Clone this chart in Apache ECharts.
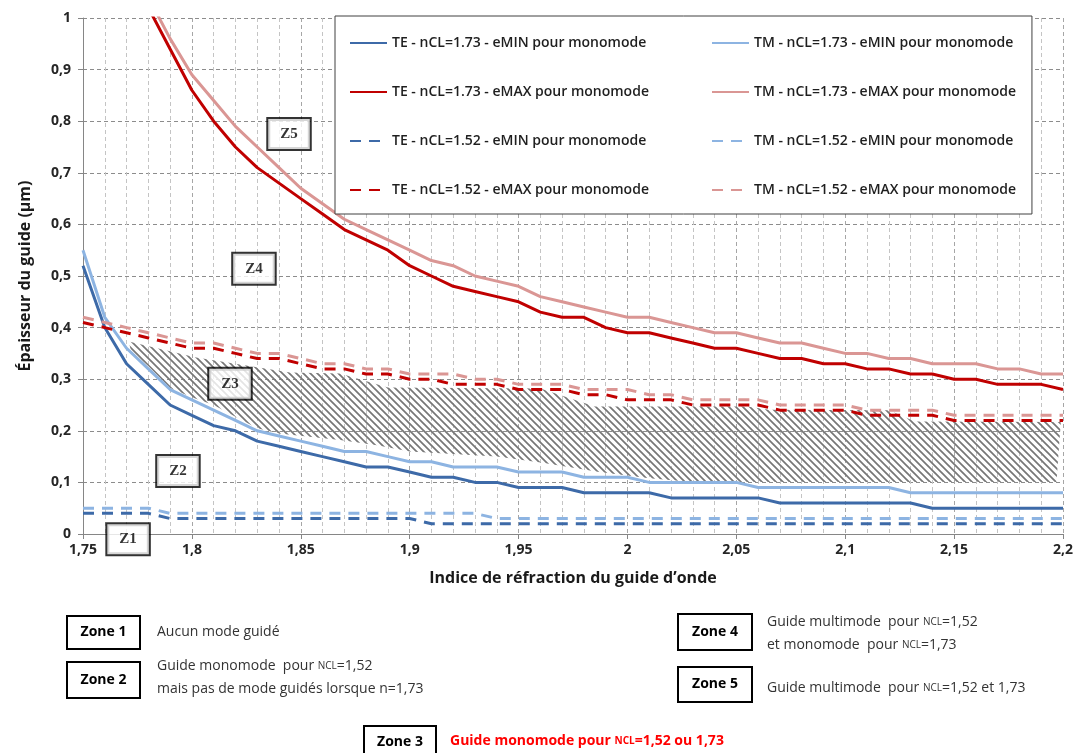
<!DOCTYPE html>
<html><head><meta charset="utf-8">
<script src="https://cdn.jsdelivr.net/npm/echarts@6/dist/echarts.min.js"></script>
<style>html,body{margin:0;padding:0;background:#fff}#chart{width:1079px;height:753px}</style>
</head><body><div id="chart"></div>
<script>
// ---------- DATA ----------
const nIndex = [1.75,1.76,1.77,1.78,1.79,1.80,1.81,1.82,1.83,1.84,1.85,1.86,1.87,1.88,1.89,1.90,1.91,1.92,1.93,1.94,1.95,1.96,1.97,1.98,1.99,2.00,2.01,2.02,2.03,2.04,2.05,2.06,2.07,2.08,2.09,2.10,2.11,2.12,2.13,2.14,2.15,2.16,2.17,2.18,2.19,2.20];

const teMin173 = [0.52,0.40,0.33,0.29,0.25,0.23,0.21,0.20,0.18,0.17, 0.16,0.15,0.14,0.13,0.13,0.12,0.11,0.11,0.10,0.10, 0.09,0.09,0.09,0.08,0.08,0.08,0.08,0.07,0.07,0.07, 0.07,0.07,0.06,0.06,0.06,0.06,0.06,0.06,0.06,0.05, 0.05,0.05,0.05,0.05,0.05,0.05];
const tmMin173 = [0.55,0.42,0.36,0.32,0.28,0.26,0.24,0.22,0.20,0.19, 0.18,0.17,0.16,0.16,0.15,0.14,0.14,0.13,0.13,0.13, 0.12,0.12,0.12,0.11,0.11,0.11,0.10,0.10,0.10,0.10, 0.10,0.09,0.09,0.09,0.09,0.09,0.09,0.09,0.08,0.08, 0.08,0.08,0.08,0.08,0.08,0.08];
const teMax173 = [null,null,null,1.02,0.94,0.86,0.80,0.75,0.71,0.68, 0.65,0.62,0.59,0.57,0.55,0.52,0.50,0.48,0.47,0.46, 0.45,0.43,0.42,0.42,0.40,0.39,0.39,0.38,0.37,0.36, 0.36,0.35,0.34,0.34,0.33,0.33,0.32,0.32,0.31,0.31, 0.30,0.30,0.29,0.29,0.29,0.28];
const tmMax173 = [null,null,null,1.04,0.96,0.89,0.84,0.79,0.75,0.71, 0.67,0.64,0.61,0.59,0.57,0.55,0.53,0.52,0.50,0.49, 0.48,0.46,0.45,0.44,0.43,0.42,0.42,0.41,0.40,0.39, 0.39,0.38,0.37,0.37,0.36,0.35,0.35,0.34,0.34,0.33, 0.33,0.33,0.32,0.32,0.31,0.31];
const teMin152 = [0.04,0.04,0.04,0.04,0.03,0.03,0.03,0.03,0.03,0.03, 0.03,0.03,0.03,0.03,0.03,0.03,0.02,0.02,0.02,0.02, 0.02,0.02,0.02,0.02,0.02,0.02,0.02,0.02,0.02,0.02, 0.02,0.02,0.02,0.02,0.02,0.02,0.02,0.02,0.02,0.02, 0.02,0.02,0.02,0.02,0.02,0.02];
const tmMin152 = [0.05,0.05,0.05,0.05,0.04,0.04,0.04,0.04,0.04,0.04, 0.04,0.04,0.04,0.04,0.04,0.04,0.04,0.04,0.04,0.03, 0.03,0.03,0.03,0.03,0.03,0.03,0.03,0.03,0.03,0.03, 0.03,0.03,0.03,0.03,0.03,0.03,0.03,0.03,0.03,0.03, 0.03,0.03,0.03,0.03,0.03,0.03];
const teMax152 = [0.41,0.40,0.39,0.38,0.37,0.36,0.36,0.35,0.34,0.34, 0.33,0.32,0.32,0.31,0.31,0.30,0.30,0.29,0.29,0.29, 0.28,0.28,0.28,0.27,0.27,0.26,0.26,0.26,0.25,0.25, 0.25,0.25,0.24,0.24,0.24,0.24,0.23,0.23,0.23,0.23, 0.22,0.22,0.22,0.22,0.22,0.22];
const tmMax152 = [0.42,0.41,0.40,0.39,0.38,0.37,0.37,0.36,0.35,0.35, 0.34,0.33,0.33,0.32,0.32,0.31,0.31,0.31,0.30,0.30, 0.29,0.29,0.29,0.28,0.28,0.28,0.27,0.27,0.26,0.26, 0.26,0.26,0.25,0.25,0.25,0.25,0.24,0.24,0.24,0.24, 0.23,0.23,0.23,0.23,0.23,0.23];

// hatched Zone 3 outline (index, thickness)
const zone3Outline = [[1.771,0.373],[1.802,0.342],[1.845,0.313],[1.868,0.311],[1.89,0.284],[1.96,0.282],[1.985,0.247],[2.055,0.247],[2.065,0.241],[2.12,0.240],[2.132,0.218],[2.199,0.217],[2.197,0.101],[2.03,0.101],[2.01,0.108],[1.987,0.12],[1.961,0.138],[1.94,0.15],[1.90,0.16],[1.885,0.172],[1.868,0.182],[1.84,0.195],[1.83,0.205],[1.82,0.227],[1.81,0.25],[1.80,0.265],[1.79,0.283],[1.78,0.325],[1.772,0.355]];

const zoneTagNames = ['Z1','Z2','Z3','Z4','Z5'];
const zoneTagIndex = [1.7707,1.7936,1.8175,1.8285,1.8446];
const zoneTagThick = [-0.01,0.122,0.291,0.514,0.775];

const seriesNames = [
  'TE - nCL=1.73 - eMIN pour monomode','TM - nCL=1.73 - eMIN pour monomode',
  'TE - nCL=1.73 - eMAX pour monomode','TM - nCL=1.73 - eMAX pour monomode',
  'TE - nCL=1.52 - eMIN pour monomode','TM - nCL=1.52 - eMIN pour monomode',
  'TE - nCL=1.52 - eMAX pour monomode','TM - nCL=1.52 - eMAX pour monomode'];
const seriesValues = [teMin173,tmMin173,teMax173,tmMax173,teMin152,tmMin152,teMax152,tmMax152];

// ---------- STYLE ----------
const C_DB = '#3d6aa8', C_LB = '#8db4e2', C_R = '#c00000', C_P = '#da9694';
const seriesColors = [C_DB,C_LB,C_R,C_P,C_DB,C_LB,C_R,C_P];
const seriesDashed = [false,false,false,false,true,true,true,true];
const FONT = '"Open Sans", "Liberation Sans", sans-serif';
const fmt = v => String(+(+v).toFixed(2)).replace('.', ',');

const tile = document.createElement('canvas');
tile.width = 7; tile.height = 7;
const tc = tile.getContext('2d');
tc.strokeStyle = '#777'; tc.lineWidth = 1.7;
tc.beginPath();
tc.moveTo(-1,-1); tc.lineTo(8,8);
tc.moveTo(-1,6); tc.lineTo(1,8);
tc.moveTo(6,-1); tc.lineTo(8,1);
tc.stroke();
const hatch = {image: tile, repeat: 'repeat'};

const chart = echarts.init(document.getElementById('chart'), null, {renderer:'canvas'});

const lineSeries = seriesNames.map((name, k) => ({
  name, type:'line', showSymbol:false, symbol:'none', z:3,
  data: nIndex.map((x,i) => [x, seriesValues[k][i]]),
  lineStyle:{color:seriesColors[k], width:3, type: seriesDashed[k] ? [11,8] : 'solid', cap:'butt'},
  itemStyle:{color:seriesColors[k]},
  emphasis:{disabled:true}, silent:true
}));

function zoneBox(x,y,w,h,label){
  return {type:'group', x, y, children:[
    {type:'rect', shape:{x:0,y:0,width:w,height:h}, style:{fill:'#fff', stroke:'#000', lineWidth:2}},
    {type:'text', x:w/2, y:h/2, style:{text:label, fontFamily:FONT, fontWeight:'bold', fontSize:14, fill:'#000', align:'center', verticalAlign:'middle', textAlign:'center', textVerticalAlign:'middle'}}
  ]};
}
function desc(x,y,text,opt){
  opt = opt || {};
  return {type:'text', x, y, style:{text, fontFamily:FONT, fontSize:14, fontWeight: opt.bold?'bold':'normal', fill: opt.color||'#333', verticalAlign:'middle', textVerticalAlign:'middle',
    rich:{sc:{fontSize:10, fontFamily:FONT, fontWeight: opt.bold?'bold':'normal', fill: opt.color||'#333', verticalAlign:'middle'}}}};
}

const legendCommon = {
  orient:'vertical', itemWidth:37, itemHeight:14, itemGap:35,
  textStyle:{fontFamily:FONT, fontWeight:600, fontSize:14, color:'#1f1f1f', width:289},
  itemStyle:{opacity:0, borderWidth:0},
  selectedMode:false
};

chart.setOption({
  animation:false,
  backgroundColor:'#fff',
  grid:{left:83, right:16, top:18, bottom:219, containLabel:false, outerBoundsMode:'none'},
  legend:[
    Object.assign({}, legendCommon, {left:335, top:16, padding:[20,383,17,14], backgroundColor:'#fff', borderColor:'#404040', borderWidth:1, z:6,
      data:[seriesNames[0],seriesNames[2],seriesNames[4],seriesNames[6]]}),
    Object.assign({}, legendCommon, {left:711, top:16, padding:[20,0,17,0], z:7,
      data:[seriesNames[1],seriesNames[3],seriesNames[5],seriesNames[7]]})
  ],
  xAxis:{type:'value', min:1.75, max:2.2, interval:0.05,
    name:'Indice de réfraction du guide d’onde', nameLocation:'middle', nameGap:36,
    nameTextStyle:{fontFamily:FONT, fontWeight:'bold', fontSize:16, color:'#1a1a1a'},
    axisLine:{show:true, onZero:false, lineStyle:{color:'#868686', width:1}},
    axisTick:{show:true, length:5, lineStyle:{color:'#868686'}},
    axisLabel:{formatter:fmt, fontFamily:FONT, fontWeight:'bold', fontSize:14, color:'#262626', margin:9},
    splitLine:{show:true, lineStyle:{color:'#a6a6a6', type:[4,3], width:1}},
    minorTick:{show:false, splitNumber:5},
    minorSplitLine:{show:true, lineStyle:{color:'#c4c4c4', type:[4,3], width:1}}
  },
  yAxis:{type:'value', min:0, max:1, interval:0.1,
    name:'Épaisseur du guide (µm)', nameLocation:'middle', nameGap:50,
    nameTextStyle:{fontFamily:FONT, fontWeight:'bold', fontSize:16, color:'#1a1a1a'},
    axisLine:{show:true, lineStyle:{color:'#868686', width:1}},
    axisTick:{show:true, length:5, lineStyle:{color:'#868686'}},
    axisLabel:{formatter:fmt, fontFamily:FONT, fontWeight:'bold', fontSize:14, color:'#262626', margin:12},
    splitLine:{show:true, lineStyle:{color:'#8c8c8c', type:[4,3], width:1}}
  },
  series:[
    {type:'custom', name:'Zone 3', silent:true, z:2, clip:true,
     data:[[1.9,0.2]],
     renderItem:(params, api) => ({
       type:'polygon',
       shape:{points: zone3Outline.map(p => api.coord(p))},
       style:{fill:hatch, stroke:null}
     })
    },
    ...lineSeries,
    {type:'scatter', name:'zones', silent:true, clip:false, z:8, symbolSize:1, itemStyle:{color:'rgba(0,0,0,0)'},
     data: zoneTagNames.map((n,i) => [zoneTagIndex[i], zoneTagThick[i], n]),
     label:{show:true, position:'inside', formatter:p => p.data[2],
       fontFamily:'"Liberation Serif", serif', fontWeight:'bold', fontSize:15, color:'#000',
       textBorderWidth:0, textShadowBlur:0,
       backgroundColor:'#fff', borderColor:'#000', borderWidth:2, padding:[8,12,7,12]}
    }
  ],
  graphic:[
    zoneBox(67,616,73,33,'Zone 1'),
    zoneBox(67,662,73,36,'Zone 2'),
    zoneBox(678,614,74,36,'Zone 4'),
    zoneBox(678,667,74,35,'Zone 5'),
    zoneBox(364,726,72,32,'Zone 3'),
    desc(157,632,'Aucun mode guidé'),
    desc(157,666,'Guide monomode  pour {sc|NCL}=1,52'),
    desc(157,689,'mais pas de mode guidés lorsque n=1,73'),
    desc(767,622,'Guide multimode  pour {sc|NCL}=1,52'),
    desc(767,645,'et monomode  pour {sc|NCL}=1,73'),
    desc(767,688,'Guide multimode  pour {sc|NCL}=1,52 et 1,73'),
    desc(450,741,'Guide monomode pour {sc|NCL}=1,52 ou 1,73', {bold:true, color:'#ff0000'})
  ]
});
</script>
</body></html>
